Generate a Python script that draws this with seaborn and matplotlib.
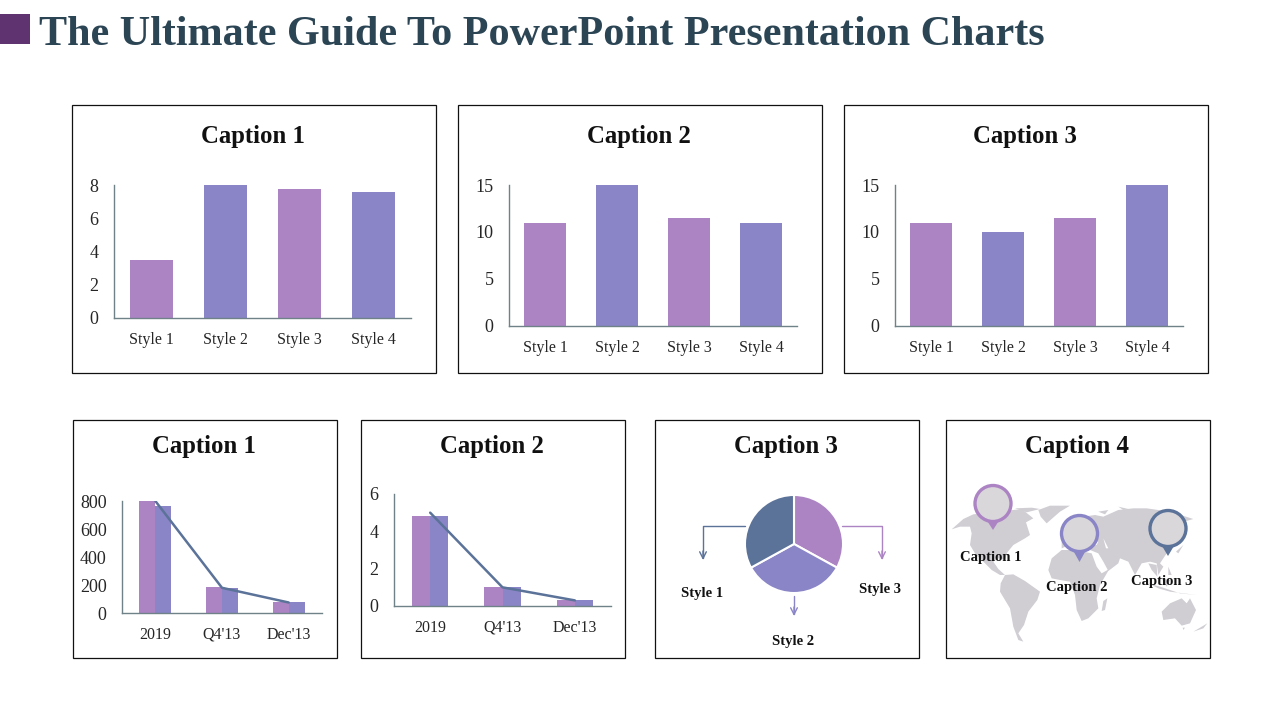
import numpy as np
import pandas as pd
import matplotlib
matplotlib.use('Agg')
import matplotlib.pyplot as plt
from matplotlib.patches import Rectangle, Polygon, Circle
import seaborn as sns

PURPLE = '#AC84C4'
BLUE = '#8985C6'
SLATE = '#5B7299'
AXIS = '#6F8288'
TEXT = '#262626'

# Data
styles = ['Style 1', 'Style 2', 'Style 3', 'Style 4']
top1_vals = [3.5, 8, 7.75, 7.6]
top2_vals = [11, 15, 11.5, 11]
top3_vals = [11, 10, 11.5, 15]

periods = ['2019', "Q4'13", "Dec'13"]
combo1_a = [800, 185, 78]
combo1_b = [765, 180, 78]
combo1_line = [800, 180, 75]
combo2_a = [4.8, 1, 0.3]
combo2_b = [4.8, 1, 0.3]
combo2_line = [5, 1, 0.3]

pie_labels = ['Style 3', 'Style 2', 'Style 1']
pie_vals = [33, 34, 33]

# rough world outline, traced from 3x crops of the panel
americas = [
    [(5, 103), (40, 72), (70, 58), (190, 45), (215, 42), (250, 70), (228, 82), (240, 120), (225, 130), (190, 150), (172, 172), (165, 195), (145, 190), (130, 200), (145, 222), (165, 240), (150, 240), (125, 225), (95, 195), (75, 175), (60, 150), (65, 115), (60, 95), (30, 95)],
    [(265, 45), (300, 32), (360, 32), (330, 50), (290, 85), (272, 65)],
    [(195, 40), (245, 38), (270, 42), (230, 52)],
    [(165, 240), (190, 238), (225, 258), (270, 290), (262, 315), (235, 350), (222, 390), (205, 415), (220, 440), (205, 435), (190, 395), (180, 340), (150, 290), (152, 265)],
]
old_world = [
    [(-65, 225), (-55, 190), (-25, 165), (15, 165), (65, 175), (80, 215), (95, 235), (118, 222), (90, 270), (80, 310), (85, 340), (55, 370), (35, 378), (20, 345), (15, 300), (0, 260), (-30, 255), (-55, 250)],
    [(100, 318), (112, 310), (105, 345), (95, 348)],
    [(-25, 160), (-25, 130), (0, 120), (15, 90), (40, 65), (75, 60), (100, 65), (145, 45), (190, 40), (230, 40), (300, 50), (370, 72), (335, 82), (330, 100), (320, 130), (300, 150), (290, 175), (270, 205), (280, 215), (265, 240), (260, 205), (240, 200), (215, 205), (195, 240), (175, 200), (150, 190), (145, 205), (115, 228), (100, 200), (85, 175), (60, 165), (35, 150), (10, 145)],
    [(235, 205), (260, 210), (262, 245), (245, 225)],
    [(235, 265), (265, 280), (300, 290), (380, 300), (330, 295), (270, 275)],
    [(275, 250), (300, 255), (290, 275)],
    [(295, 215), (305, 240), (295, 240)],
    [(318, 170), (340, 150), (325, 175)],
    [(275, 350), (300, 325), (335, 310), (350, 325), (360, 310), (378, 345), (360, 385), (335, 392), (315, 370), (280, 375)],
    [(370, 410), (412, 385), (400, 400)],
    [(338, 398), (345, 398), (340, 405)],
    [(85, 50), (115, 45), (105, 58)],
    [(145, 35), (175, 42), (160, 45)],
]
inland_seas = [[(100, 130), (115, 160), (108, 160)], [(60, 145), (85, 140), (80, 150)]]

sns.set_theme(style='white')
plt.rcParams['font.family'] = ['Liberation Serif', 'DejaVu Serif']

fig = plt.figure(figsize=(12.8, 7.2), dpi=100)
W, H = 1280, 720


def px_axes(x0, y_top, x1, y_bot):
    ax = fig.add_axes([x0 / W, 1 - y_bot / H, (x1 - x0) / W, (y_bot - y_top) / H])
    ax.patch.set_alpha(0)
    return ax


def clean(ax, ymax, ticks):
    ax.set_ylim(0, ymax)
    ax.set_yticks(ticks)
    ax.set_xlabel('')
    ax.set_ylabel('')
    sns.despine(ax=ax)
    for side in ['left', 'bottom']:
        ax.spines[side].set_color(AXIS)
        ax.spines[side].set_linewidth(1)
    ax.tick_params(axis='x', length=0, pad=18.7, labelsize=11.5, labelcolor=TEXT)
    ax.tick_params(axis='y', length=0, pad=11, labelsize=13, labelcolor=TEXT)
    for t in ax.get_xticklabels():
        t.set_verticalalignment('baseline')


def style_bars(box, vals, ymax, ticks):
    ax = px_axes(*box)
    colors = [PURPLE, BLUE, PURPLE, BLUE]
    sns.barplot(x=styles, y=vals, hue=styles, palette=colors, width=0.58, legend=False, saturation=1,
                linewidth=0, ax=ax)
    ax.set_xlim(-0.5, 3.5)
    clean(ax, ymax, ticks)


def combo(box, a, b, line, ymax, ticks, width):
    ax = px_axes(*box)
    df = pd.DataFrame({
        'period': periods * 2,
        'series': ['a'] * 3 + ['b'] * 3,
        'value': a + b,
    })
    sns.barplot(data=df, x='period', y='value', hue='series', palette=[PURPLE, BLUE], width=width, legend=False,
                saturation=1, linewidth=0, ax=ax)
    sns.lineplot(x=periods, y=line, sort=False, color=SLATE, linewidth=1.8, ax=ax)
    ax.set_xlim(-0.5, 2.5)
    clean(ax, ymax, ticks)


style_bars((114, 185, 411, 318), top1_vals, 8, [0, 2, 4, 6, 8])
style_bars((509, 185, 797, 326), top2_vals, 15, [0, 5, 10, 15])
style_bars((895, 185, 1183, 326), top3_vals, 15, [0, 5, 10, 15])
combo((122, 501, 322, 613), combo1_a, combo1_b, combo1_line, 800, [0, 200, 400, 600, 800], 0.48)
combo((394, 494, 611, 606), combo2_a, combo2_b, combo2_line, 6, [0, 2, 4, 6], 0.5)

# pie
pie_ax = px_axes(744, 494, 844, 594)
pie_ax.pie(pie_vals, colors=[PURPLE, BLUE, SLATE], startangle=90, counterclock=False, radius=1,
           wedgeprops={'edgecolor': 'white', 'linewidth': 1.5})
pie_ax.set_xlim(-1.02, 1.02)
pie_ax.set_ylim(-1.02, 1.02)

# everything laid out in pixels: frames, title, captions, map
over = fig.add_axes([0, 0, 1, 1], zorder=5)
over.set_xlim(0, W)
over.set_ylim(H, 0)
over.axis('off')
over.patch.set_alpha(0)

over.add_patch(Rectangle((0, 14), 30, 30, color='#5E3370', lw=0))
over.text(39, 35, 'The Ultimate Guide To PowerPoint Presentation Charts', fontsize=30.3, fontweight='bold',
          color='#2C4555', va='center', ha='left')

frames = [(72, 105, 437, 374), (458, 105, 823, 374), (844, 105, 1209, 374),
          (73, 420, 338, 659), (361, 420, 626, 659), (655, 420, 920, 659), (946, 420, 1211, 659)]
for x0, y0, x1, y1 in frames:
    over.add_patch(Rectangle((x0, y0), x1 - x0 - 1, y1 - y0 - 1, fill=False, ec='#111111', lw=0.9))

captions = [('Caption 1', 253, 136), ('Caption 2', 639, 136), ('Caption 3', 1025, 136),
            ('Caption 1', 204, 447), ('Caption 2', 492, 447), ('Caption 3', 786, 447), ('Caption 4', 1077, 447)]
for txt, x, y in captions:
    over.text(x, y, txt, fontsize=17.8, fontweight='bold', color='#111111', ha='center', va='center')

# pie connectors
connectors = [([745, 703, 703], [526, 526, 560], SLATE),
              ([842, 882, 882], [526, 526, 560], PURPLE),
              ([794, 794], [596, 616], BLUE)]
for xs, ys, c in connectors:
    over.plot(xs, [*ys[:-1], ys[-1] - 2], color=c, lw=1)
    over.annotate('', xy=(xs[-1], ys[-1]), xytext=(xs[-1], ys[-1] - 9),
                  arrowprops={'arrowstyle': '->', 'color': c, 'lw': 1, 'mutation_scale': 12,
                              'shrinkA': 0, 'shrinkB': 0})
for txt, x, y in [('Style 1', 702, 594), ('Style 3', 880, 590), ('Style 2', 793, 642)]:
    over.text(x, y, txt, fontsize=10.5, fontweight='bold', color='#111111', ha='center', va='center')

# map
for shape in americas:
    pts = [(950 + zx / 3, 495 + zy / 3) for zx, zy in shape]
    over.add_patch(Polygon(pts, closed=True, color='#D0CDD3', lw=0))
for shape in old_world:
    pts = [(1070 + zx / 3, 495 + zy / 3) for zx, zy in shape]
    over.add_patch(Polygon(pts, closed=True, color='#D0CDD3', lw=0))
for shape in inland_seas:
    pts = [(1070 + zx / 3, 495 + zy / 3) for zx, zy in shape]
    over.add_patch(Polygon(pts, closed=True, color='white', lw=0))

pins = [(993, 503.5, 530, PURPLE), (1079.5, 533.5, 562, BLUE), (1168, 528.5, 556, SLATE)]
for cx, cy, tip, c in pins:
    over.add_patch(Polygon([(cx - 8, cy + 14), (cx + 8, cy + 14), (cx, tip)], closed=True, color=c, lw=0))
    over.add_patch(Circle((cx, cy), 18, fc='#DAD7DB', ec=c, lw=2.4))
for txt, x, y in [('Caption 1', 991, 557), ('Caption 2', 1077, 587), ('Caption 3', 1162, 582)]:
    over.text(x, y, txt, fontsize=10.5, fontweight='bold', color='#111111', ha='center', va='center')

fig.savefig('out.png', dpi=100)
